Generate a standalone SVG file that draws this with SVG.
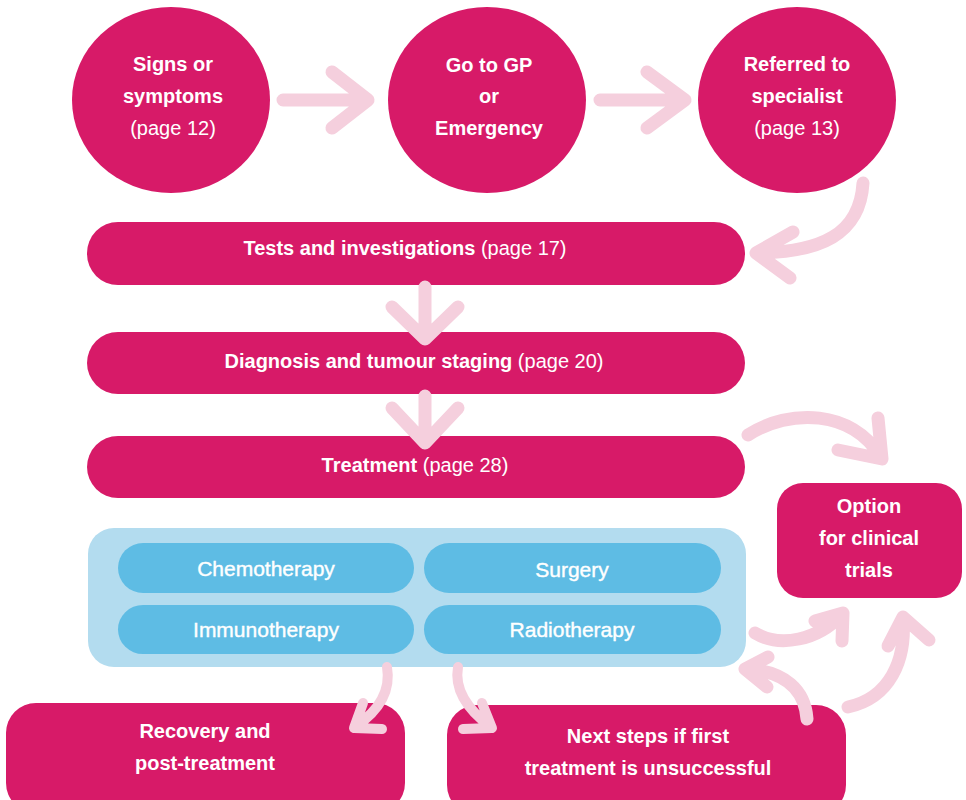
<svg xmlns="http://www.w3.org/2000/svg" width="966" height="800" viewBox="0 0 966 800">
<style>
.n{fill:#d71a68}
.c{fill:#b3dcef}
.p{fill:#5ebce4}
text{font-family:"Liberation Sans",Arial,sans-serif;font-size:20px;fill:#fff;text-anchor:middle}
.b{font-weight:bold}
.r{font-weight:normal}
.pt{font-size:21px;font-weight:normal;stroke:#fff;stroke-width:0.4}
.a{fill:none;stroke:#f5cfdd;stroke-width:13;stroke-linecap:round;stroke-linejoin:round}
.s{stroke-width:10}
</style>
<g id="signs">
<ellipse class="n" cx="171" cy="100" rx="99" ry="93"/>
<text class="b" x="173" y="71">Signs or</text>
<text class="b" x="173" y="103">symptoms</text>
<text class="r" x="173" y="135">(page 12)</text>
</g>
<g id="gp">
<ellipse class="n" cx="487" cy="100" rx="99" ry="93"/>
<text class="b" x="489" y="72">Go to GP</text>
<text class="b" x="489" y="103">or</text>
<text class="b" x="489" y="135">Emergency</text>
</g>
<g id="specialist">
<ellipse class="n" cx="797" cy="100" rx="99" ry="93"/>
<text class="b" x="797" y="71">Referred to</text>
<text class="b" x="797" y="103">specialist</text>
<text class="r" x="797" y="135">(page 13)</text>
</g>
<g id="tests">
<rect class="n" x="87" y="222" width="658" height="63" rx="31"/>
<text x="405" y="255"><tspan class="b">Tests and investigations</tspan><tspan class="r"> (page 17)</tspan></text>
</g>
<g id="diagnosis">
<rect class="n" x="87" y="332" width="658" height="62" rx="31"/>
<text x="414" y="368"><tspan class="b">Diagnosis and tumour staging</tspan><tspan class="r"> (page 20)</tspan></text>
</g>
<g id="treatment">
<rect class="n" x="87" y="436" width="658" height="62" rx="31"/>
<text x="415" y="472"><tspan class="b">Treatment</tspan><tspan class="r"> (page 28)</tspan></text>
</g>
<g id="treatments">
<rect class="c" x="88" y="528" width="658" height="139" rx="26"/>
<g id="chemo"><rect class="p" x="118" y="543" width="296" height="50" rx="25"/><text class="pt" x="266" y="576">Chemotherapy</text></g>
<g id="surgery"><rect class="p" x="424" y="543" width="297" height="50" rx="25"/><text class="pt" x="572" y="577">Surgery</text></g>
<g id="immuno"><rect class="p" x="118" y="605" width="296" height="49" rx="25"/><text class="pt" x="266" y="637">Immunotherapy</text></g>
<g id="radio"><rect class="p" x="424" y="605" width="297" height="49" rx="25"/><text class="pt" x="572" y="637">Radiotherapy</text></g>
</g>
<g id="trials">
<rect class="n" x="777" y="483" width="185" height="115" rx="26"/>
<text class="b" x="869" y="513">Option</text>
<text class="b" x="869" y="545">for clinical</text>
<text class="b" x="869" y="577">trials</text>
</g>
<g id="recovery">
<rect class="n" x="6" y="703" width="399" height="110" rx="30"/>
<text class="b" x="205" y="738">Recovery and</text>
<text class="b" x="205" y="770">post-treatment</text>
</g>
<g id="nextsteps">
<rect class="n" x="447" y="705" width="399" height="110" rx="30"/>
<text class="b" x="648" y="743">Next steps if first</text>
<text class="b" x="648" y="775">treatment is unsuccessful</text>
</g>
<g id="connectors">
<path class="a" d="M283,100 H367 M332,72 L368,100 L332,128"/>
<path class="a" d="M600,100 H684 M647,72 L685,100 L647,128"/>
<path class="a" d="M863,183 C860,235 820,252 758,253 M793,232 L756,253 L790,278"/>
<path class="a" d="M425,287 V338 M392,307 L425,339 L458,307"/>
<path class="a" d="M425,396 V443 M392,408 L425,443 L458,408"/>
<path class="a" d="M748,435 C790,408 852,410 880,456 M878,418 L882,459 L838,450"/>
<path class="a" d="M755,633 C780,648 818,640 841,615 M815,621 L843,613 L842,641"/>
<path class="a" d="M848,707 C890,698 906,660 903,620 M888,646 L903,617 L929,640"/>
<path class="a" d="M807,719 C805,690 785,672 748,669 M768,657 L745,669 L767,687"/>
<path class="a s" d="M387,667 C391,690 380,710 355,727 M363,703 L354,728 L382,729"/>
<path class="a s" d="M458,667 C454,690 468,710 491,727 M482,703 L492,728 L463,729"/>
</g>
</svg>
